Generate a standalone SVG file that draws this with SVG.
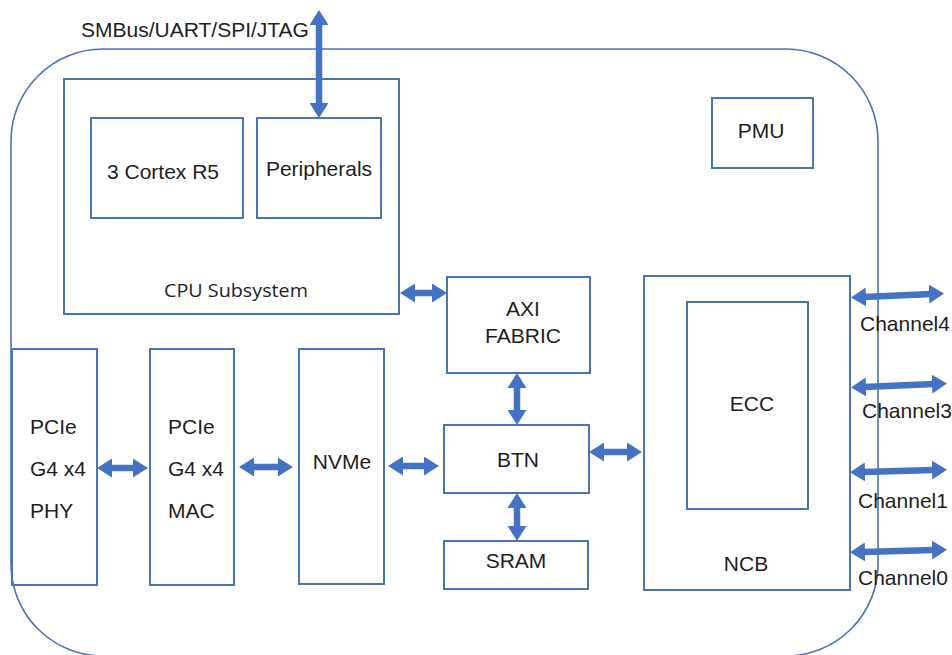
<svg xmlns="http://www.w3.org/2000/svg" width="952" height="655" viewBox="0 0 952 655">
<defs>
<style>
.box{fill:none;stroke:#4a73bd;stroke-width:2}
.outer{fill:none;stroke:#4a73bd;stroke-width:1.6}
.t{font-family:"Liberation Sans",Arial,sans-serif;font-size:21px;fill:#1e1e1e}
.m{text-anchor:middle}
.c{font-family:"Open Sans","Liberation Sans",sans-serif;font-size:19px;fill:#1e1e1e}
.arr{stroke:#4472c4;stroke-width:6.5;fill:none;marker-start:url(#ah);marker-end:url(#ah)}
</style>
<marker id="ah" viewBox="0 0 15 19" refX="2" refY="9.5" markerWidth="15" markerHeight="19" markerUnits="userSpaceOnUse" orient="auto-start-reverse">
<path d="M0,0 L15,9.5 L0,19 z" fill="#4472c4"/>
</marker>
</defs>
<rect width="952" height="655" fill="#ffffff"/>
<rect class="outer" x="11" y="49" width="867" height="607" rx="92" ry="92"/>
<text class="t" x="81" y="37">SMBus/UART/SPI/JTAG</text>

<g id="cpu-subsystem">
<rect class="box" x="64" y="79" width="335" height="235"/>
<text class="c" x="164" y="297" textLength="144" lengthAdjust="spacingAndGlyphs">CPU Subsystem</text>
</g>
<g id="cortex">
<rect class="box" x="91" y="118" width="152" height="100"/>
<text class="t m" x="163" y="179">3 Cortex R5</text>
</g>
<g id="peripherals">
<rect class="box" x="257" y="118" width="124" height="100"/>
<text class="t m" x="319" y="176">Peripherals</text>
</g>
<g id="pmu">
<rect class="box" x="712" y="98" width="101" height="70"/>
<text class="t m" x="761" y="138">PMU</text>
</g>
<g id="axi">
<rect class="box" x="447" y="277" width="143" height="96"/>
<text class="t m" x="523" y="316">AXI</text>
<text class="t m" x="523" y="343">FABRIC</text>
</g>
<g id="btn">
<rect class="box" x="444" y="425" width="145" height="68"/>
<text class="t m" x="518" y="467">BTN</text>
</g>
<g id="sram">
<rect class="box" x="444" y="541" width="144" height="48"/>
<text class="t m" x="516" y="568">SRAM</text>
</g>
<g id="ncb">
<rect class="box" x="644" y="276" width="206" height="314"/>
<text class="t m" x="746" y="571">NCB</text>
</g>
<g id="ecc">
<rect class="box" x="687" y="302" width="121" height="207"/>
<text class="t m" x="752" y="411">ECC</text>
</g>
<g id="pcie-phy">
<rect class="box" x="12" y="349" width="85" height="236"/>
<text class="t" x="30" y="434">PCIe</text>
<text class="t" x="30" y="476">G4 x4</text>
<text class="t" x="30" y="518">PHY</text>
</g>
<g id="pcie-mac">
<rect class="box" x="150" y="349" width="84" height="236"/>
<text class="t" x="168" y="434">PCIe</text>
<text class="t" x="168" y="476">G4 x4</text>
<text class="t" x="168" y="518">MAC</text>
</g>
<g id="nvme">
<rect class="box" x="299" y="349" width="85" height="235"/>
<text class="t m" x="342" y="469">NVMe</text>
</g>

<g id="connectors">
<line class="arr" x1="319" y1="23" x2="319" y2="105"/>
<line class="arr" x1="413" y1="293" x2="434" y2="293"/>
<line class="arr" x1="517" y1="386" x2="517" y2="412"/>
<line class="arr" x1="517" y1="506" x2="517" y2="528"/>
<line class="arr" x1="602" y1="452" x2="629" y2="452"/>
<line class="arr" x1="110" y1="468" x2="135" y2="468"/>
<line class="arr" x1="252" y1="467" x2="280" y2="467"/>
<line class="arr" x1="401" y1="466" x2="426" y2="466"/>
<line class="arr" x1="864" y1="297" x2="931" y2="294"/>
<line class="arr" x1="864" y1="387" x2="934" y2="384"/>
<line class="arr" x1="863" y1="472" x2="934" y2="470"/>
<line class="arr" x1="863" y1="552" x2="934" y2="550"/>
</g>
<text class="t" x="860" y="331">Channel4</text>
<text class="t" x="862" y="418">Channel3</text>
<text class="t" x="858" y="508">Channel1</text>
<text class="t" x="858" y="585">Channel0</text>
</svg>
